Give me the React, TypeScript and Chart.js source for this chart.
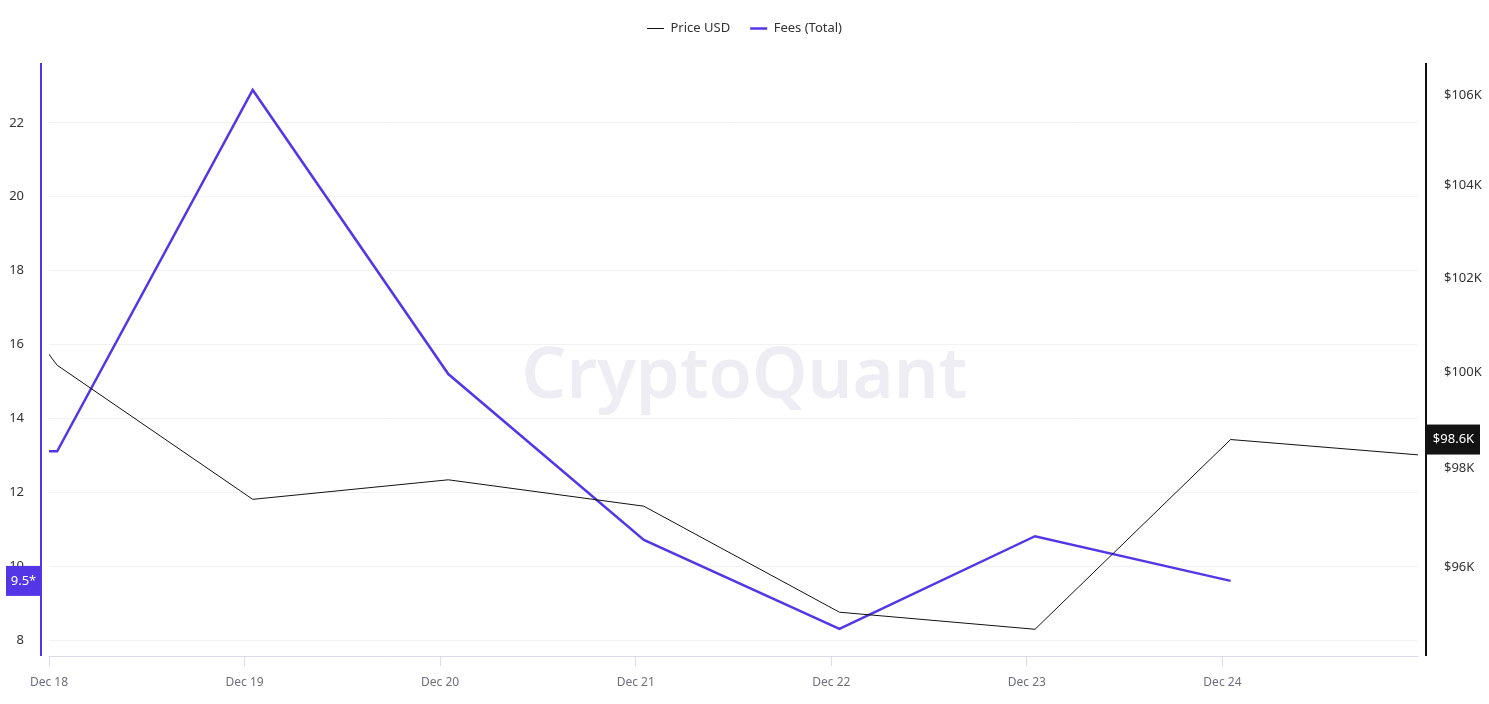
import { useEffect, useRef } from 'react';
import { Chart, registerables } from 'chart.js';

Chart.register(...registerables);

// ---- data ----
const dates = [
  '2024-12-17T01:00:00Z',
  '2024-12-18T01:00:00Z',
  '2024-12-19T01:00:00Z',
  '2024-12-20T01:00:00Z',
  '2024-12-21T01:00:00Z',
  '2024-12-22T01:00:00Z',
  '2024-12-23T01:00:00Z',
  '2024-12-24T01:00:00Z',
  '2024-12-25T01:00:00Z',
];
const priceUsd = [105780, 100150, 97370, 97770, 97230, 95090, 94750, 98600, 98270];
const feesTotal: (number | null)[] = [13.1, 13.11, 22.89, 15.2, 10.71, 8.3, 10.81, 9.6, null];

const xStartDate = '2024-12-18T00:00:00Z';
const xEndDate = '2024-12-25T00:00:00Z';
const xTickLabels = ['Dec 18', 'Dec 19', 'Dec 20', 'Dec 21', 'Dec 22', 'Dec 23', 'Dec 24'];
const leftTicks = [8, 10, 12, 14, 16, 18, 20, 22];
const leftMin = 7.567;
const leftMax = 23.62;
const rightTicks = [96000, 98000, 100000, 102000, 104000, 106000];
const rightMin = 94220;
const rightMax = 106710;

const priceTagValue = 98600;
const priceTagText = '$98.6K';
const feeTagValue = 9.6;
const feeTagText = '9.5*';

const PURPLE = '#5536e6';
const FONT = '"Noto Sans", sans-serif';

const DAY = 86400000;
const base = Date.parse(xStartDate);
const toDay = (s: string) => (Date.parse(s) - base) / DAY;

const overlayPlugin = {
  id: 'overlay',
  beforeLayout(chart: any) {
    const lg = chart.legend;
    if (lg && !lg.__patched) {
      const origFit = lg.fit.bind(lg);
      lg.fit = function () {
        origFit();
        this.height = 61;
      };
      lg.__patched = true;
    }
  },
  beforeDatasetsDraw(chart: any) {
    const { ctx, chartArea } = chart;
    ctx.save();
    const text = 'CryptoQuant';
    ctx.font = `600 100px ${FONT}`;
    const w = ctx.measureText(text).width;
    const size = (100 * 446) / w;
    ctx.font = `600 ${size}px ${FONT}`;
    ctx.fillStyle = '#eeedf3';
    ctx.textAlign = 'center';
    ctx.textBaseline = 'middle';
    ctx.fillText(text, chart.width / 2, (chartArea.top + chartArea.bottom) / 2 + 18);
    ctx.restore();
  },
  afterDraw(chart: any) {
    const { ctx, chartArea, scales } = chart;
    ctx.save();
    // left axis line
    ctx.strokeStyle = PURPLE;
    ctx.lineWidth = 2;
    ctx.beginPath();
    ctx.moveTo(chartArea.left - 8, chartArea.top);
    ctx.lineTo(chartArea.left - 8, chartArea.bottom);
    ctx.stroke();
    // right axis line
    ctx.strokeStyle = '#111111';
    ctx.beginPath();
    ctx.moveTo(chartArea.right + 8, chartArea.top);
    ctx.lineTo(chartArea.right + 8, chartArea.bottom);
    ctx.stroke();

    ctx.font = `13px ${FONT}`;
    ctx.textAlign = 'center';
    ctx.textBaseline = 'middle';
    // fee tag
    const fy = scales.yFees.getPixelForValue(feeTagValue);
    ctx.fillStyle = PURPLE;
    ctx.fillRect(6, fy - 15, chartArea.left - 8 - 6, 30);
    ctx.fillStyle = '#ffffff';
    ctx.fillText(feeTagText, (6 + chartArea.left - 8) / 2, fy);
    // price tag
    const py = scales.yPrice.getPixelForValue(priceTagValue);
    ctx.fillStyle = '#131313';
    ctx.fillRect(chartArea.right + 9, py - 15, 53, 30);
    ctx.fillStyle = '#ffffff';
    ctx.fillText(priceTagText, chartArea.right + 9 + 26.5, py);
    ctx.restore();
  },
};

export default function App() {
  const ref = useRef<HTMLCanvasElement>(null);

  useEffect(() => {
    if (!ref.current) return;
    const xs = dates.map(toDay);
    const chart = new Chart(ref.current, {
      type: 'line',
      data: {
        datasets: [
          {
            label: 'Price USD',
            data: xs.map((x, i) => ({ x, y: priceUsd[i] })),
            borderColor: '#111111',
            backgroundColor: '#111111',
            borderWidth: 1,
            pointRadius: 0,
            tension: 0,
            yAxisID: 'yPrice',
          },
          {
            label: 'Fees (Total)',
            data: xs.map((x, i) => ({ x, y: feesTotal[i] })),
            borderColor: PURPLE,
            backgroundColor: PURPLE,
            borderWidth: 2.5,
            pointRadius: 0,
            tension: 0,
            yAxisID: 'yFees',
          },
        ],
      },
      options: {
        responsive: false,
        animation: false,
        events: [],
        layout: { padding: { top: 2, left: 0, right: 0, bottom: 0 } },
        plugins: {
          tooltip: { enabled: false },
          legend: {
            position: 'top',
            labels: {
              usePointStyle: true,
              pointStyle: 'line',
              pointStyleWidth: 17,
              padding: 20,
              color: '#333333',
              font: { family: FONT, size: 13 },
            },
          },
        },
        scales: {
          x: {
            type: 'linear',
            min: toDay(xStartDate),
            max: toDay(xEndDate),
            afterBuildTicks: (s: any) => {
              s.ticks = xTickLabels.map((_, i) => ({ value: i }));
            },
            afterFit: (s: any) => {
              s.height = 48;
            },
            ticks: {
              autoSkip: false,
              maxRotation: 0,
              padding: 9,
              color: '#6e6e7e',
              font: { family: FONT, size: 12 },
              callback: (_v: any, i: number) => xTickLabels[i],
            },
            grid: {
              drawOnChartArea: false,
              drawTicks: true,
              tickLength: 10,
              color: '#dcdbe8',
            },
            border: { display: true, color: '#dcdbe8', width: 1 },
          },
          yFees: {
            type: 'linear',
            position: 'left',
            min: leftMin,
            max: leftMax,
            afterBuildTicks: (s: any) => {
              s.ticks = leftTicks.map((v) => ({ value: v }));
            },
            afterFit: (s: any) => {
              s.width = 49;
            },
            ticks: {
              padding: 25,
              color: '#333333',
              font: { family: FONT, size: 13 },
            },
            grid: { color: '#f2f2f4', drawTicks: false },
            border: { display: false },
          },
          yPrice: {
            type: 'logarithmic',
            position: 'right',
            min: rightMin,
            max: rightMax,
            afterBuildTicks: (s: any) => {
              s.ticks = rightTicks.map((v) => ({ value: v }));
            },
            afterFit: (s: any) => {
              s.width = 71;
            },
            ticks: {
              padding: 26,
              color: '#333333',
              font: { family: FONT, size: 13 },
              callback: (v: any) => '$' + Math.round(Number(v) / 1000) + 'K',
            },
            grid: { display: false, drawTicks: false },
            border: { display: false },
          },
        },
      },
      plugins: [overlayPlugin],
    } as any);
    return () => chart.destroy();
  }, []);

  return (
    <div style={{ position: 'fixed', left: 0, top: 0, width: 1489, height: 704, background: '#ffffff' }}>
      <canvas ref={ref} width={1489} height={704} style={{ display: 'block' }} />
    </div>
  );
}
